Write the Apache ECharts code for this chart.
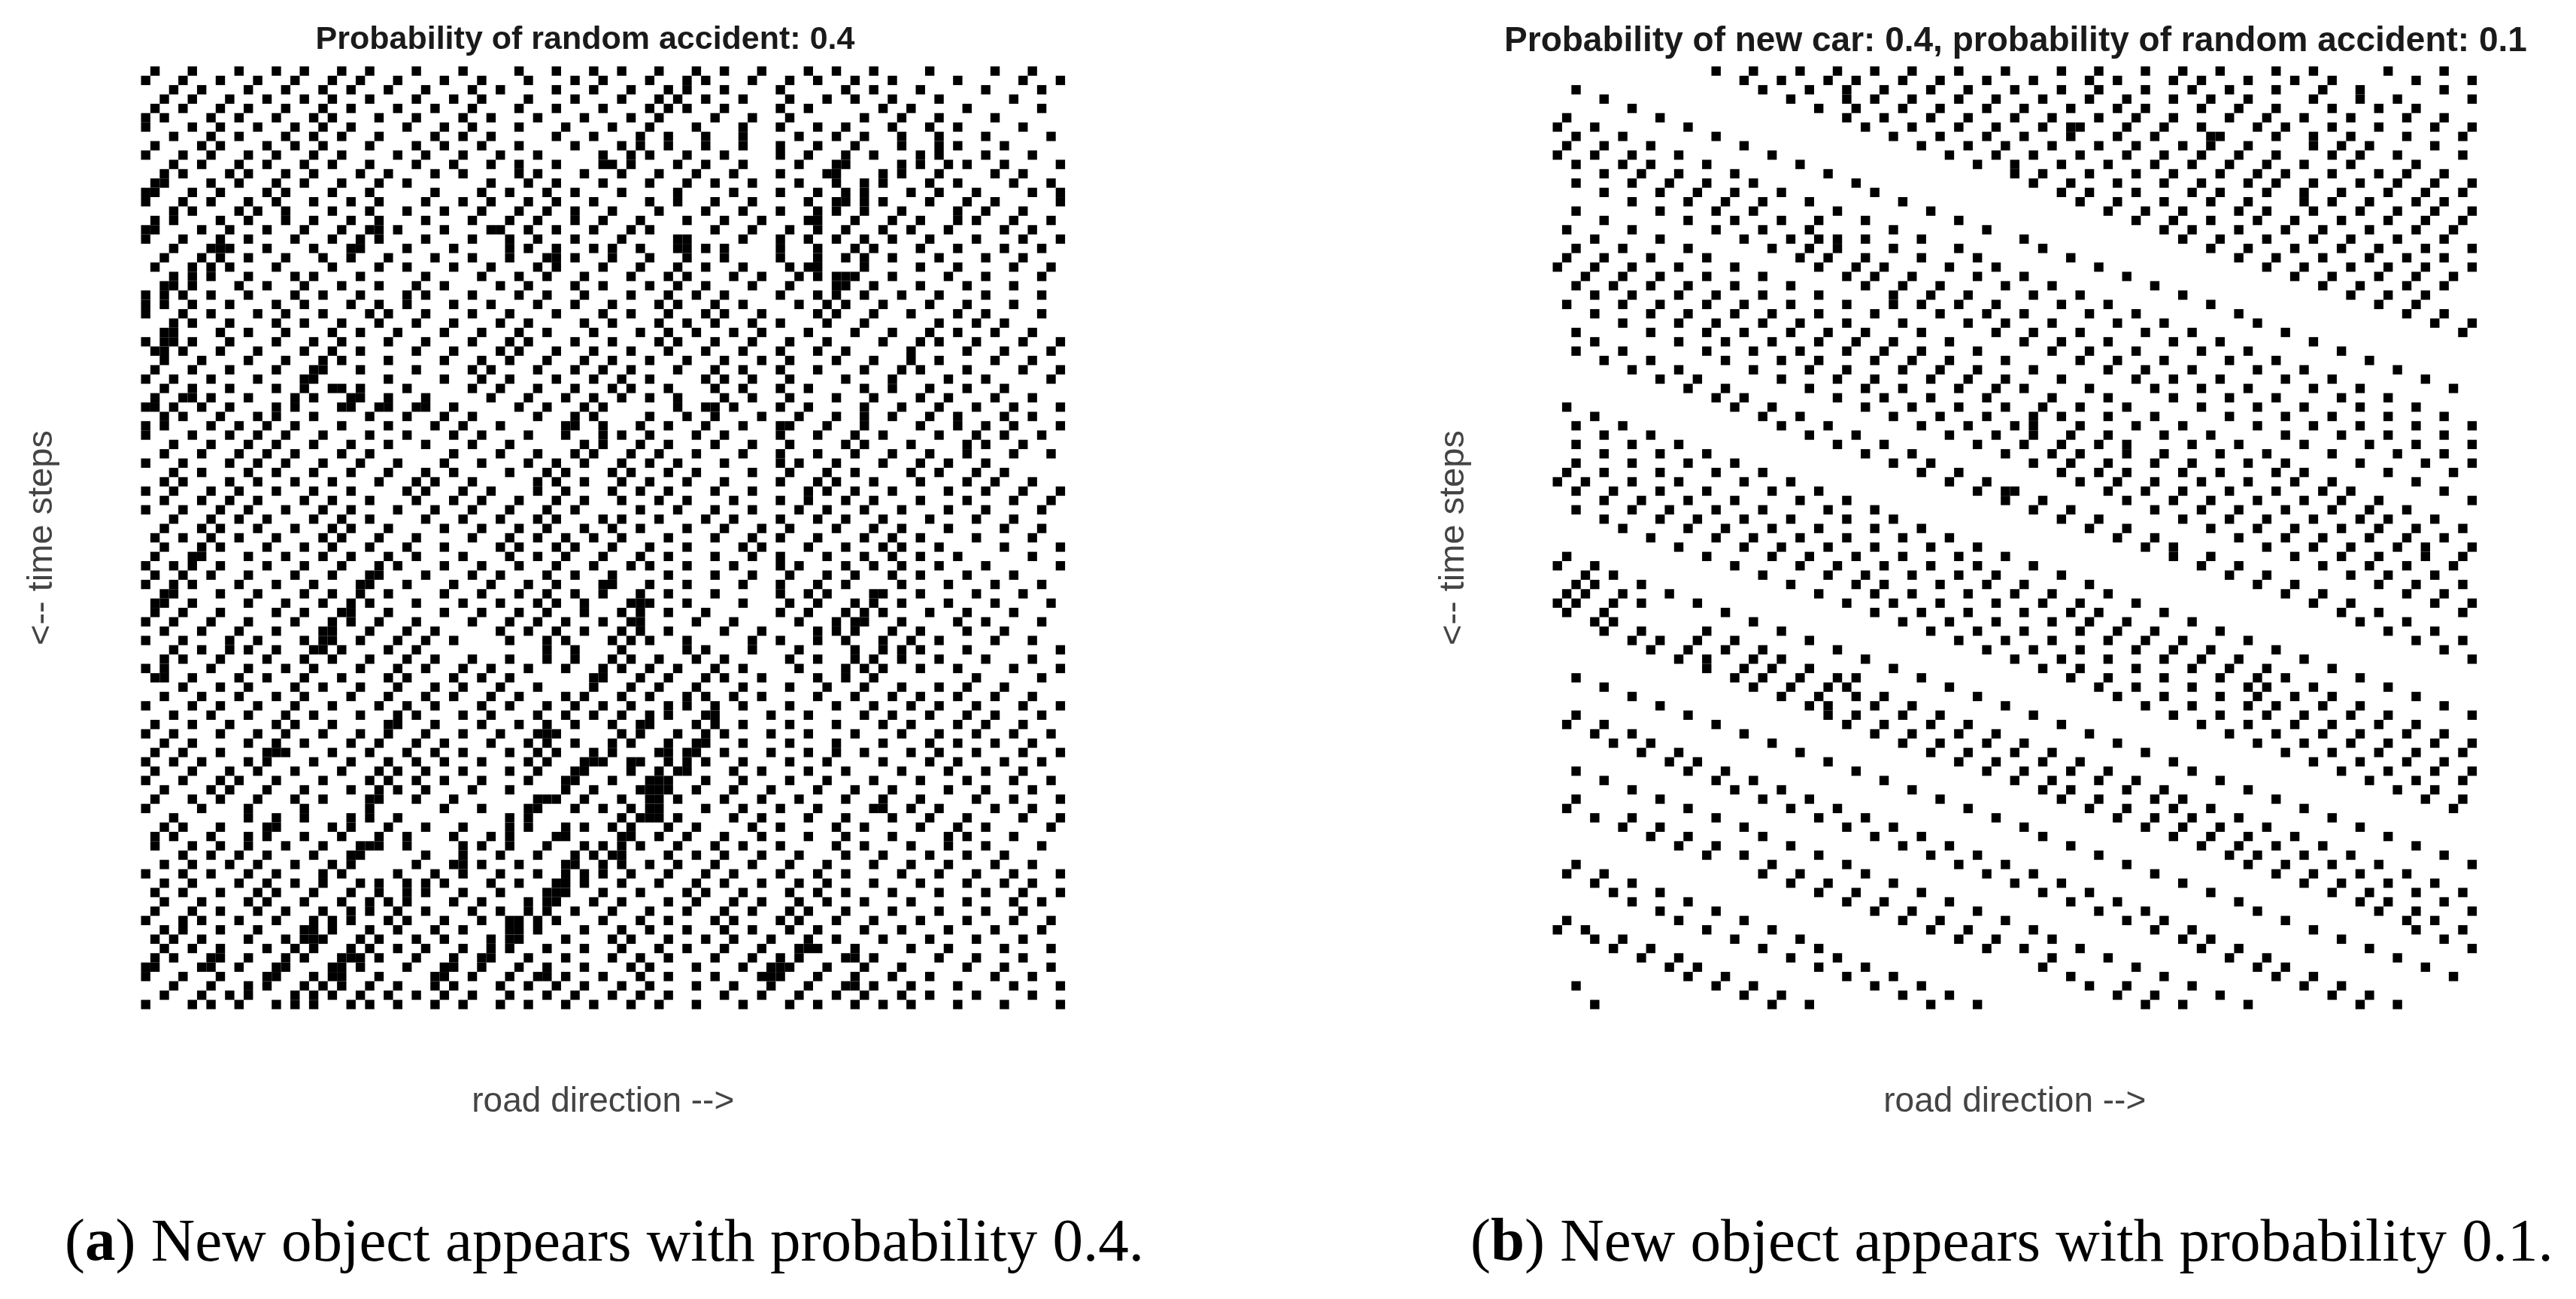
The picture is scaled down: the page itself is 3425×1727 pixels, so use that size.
<!DOCTYPE html>
<html>
<head>
<meta charset="utf-8">
<title>traffic</title>
<script src="https://cdn.jsdelivr.net/npm/echarts@6/dist/echarts.min.js"></script>
<style>html,body{margin:0;background:#fff}#main{width:3425px;height:1727px}</style>
</head>
<body>
<div id="main"></div>
<script>
// occupied road cells per time step (one list per row, numbers = column)
var rowsA = [
[1,5,10,14,17,21,24,29,34,40,44,48,51,55,59,62,66,71,74,78,84,91,95],
[0,4,8,12,16,20,23,27,32,36,41,46,49,54,58,60,65,69,72,76,80,87,94,98],
[3,6,11,15,19,22,26,30,35,38,44,48,52,56,58,62,68,75,78,83,90,96],
[2,5,9,13,17,20,24,29,33,36,41,46,51,55,57,60,64,69,73,76,80,85,93],
[1,4,8,11,15,19,22,27,31,35,40,44,49,54,56,58,62,68,71,79,82,88,96],
[0,2,7,10,14,18,20,25,29,34,37,42,47,52,55,61,65,69,77,81,85,91],
[0,5,8,12,16,19,22,28,32,35,40,45,50,54,59,64,68,72,75,80,84,87,94],
[3,7,10,15,18,21,25,31,34,37,44,48,53,56,60,64,70,74,77,81,85,90,97],
[1,6,8,13,16,19,24,29,32,36,40,46,51,53,56,60,64,68,72,76,81,85,87,92],
[0,4,7,11,14,18,21,27,30,34,38,42,49,52,54,58,62,68,71,75,78,83,85,90,95],
[3,6,10,13,17,20,24,29,33,37,40,44,49,50,52,57,60,64,70,74,75,81,83,86,88,92,98],
[2,4,9,11,15,18,23,26,31,34,40,42,47,51,55,59,63,68,73,74,79,81,85,91,94],
[1,2,7,10,14,17,21,25,28,37,41,44,49,54,58,61,65,70,74,77,79,84,87,93,97],
[0,1,5,8,13,15,20,24,31,36,39,43,46,51,57,63,68,72,75,77,82,85,89,95,98],
[0,4,7,11,14,18,22,25,30,34,37,41,44,48,54,57,61,65,71,74,75,77,79,84,88,91,98],
[3,5,10,12,15,20,24,28,32,36,40,43,46,50,55,60,64,68,72,74,77,81,87,90,94],
[1,3,8,11,15,18,22,25,30,35,39,42,46,49,53,58,62,66,71,72,76,80,83,87,89,93,97],
[0,1,6,9,13,17,21,24,25,27,32,37,38,41,44,48,52,54,61,65,69,72,75,79,82,86,92,95],
[0,4,8,11,16,20,23,25,30,35,39,42,46,51,57,58,64,68,71,74,77,80,84,89,94,98],
[3,7,8,9,13,18,22,23,28,33,39,41,44,48,50,53,57,58,60,62,68,72,76,78,83,87,92,96],
[2,6,8,11,15,19,22,26,31,35,39,43,44,46,50,54,58,62,68,72,75,77,80,85,90,94],
[1,5,7,9,14,20,25,28,33,37,42,44,49,53,57,60,64,69,71,72,77,83,87,93,97],
[3,5,7,11,16,18,23,30,36,40,43,47,52,56,58,63,66,70,72,74,75,76,80,86,90,96],
[2,3,5,10,13,17,21,25,29,32,38,41,46,49,54,57,60,65,69,74,75,78,83,88,93],
[0,2,4,7,11,16,19,23,28,30,35,40,43,47,52,56,59,62,68,72,74,77,81,85,90,96],
[0,2,5,9,14,17,22,25,28,33,37,42,46,50,55,57,61,64,70,73,75,79,84,88,93],
[0,4,7,12,15,19,24,26,30,35,39,44,49,52,56,60,62,66,72,74,78,82,87,90,96],
[3,5,9,14,17,21,25,29,33,38,41,47,50,55,58,61,65,68,73,77,85,89,92],
[2,3,8,11,15,20,23,27,32,36,40,43,48,53,56,59,63,66,71,76,80,84,87,91,95],
[0,2,3,5,9,14,18,21,26,30,35,39,41,46,50,55,57,61,65,69,73,79,83,85,89,94,98],
[1,2,4,8,12,17,20,23,29,33,38,40,44,48,52,56,60,64,68,72,75,82,88,92,97],
[2,6,11,15,19,21,26,32,36,39,43,47,50,54,58,62,66,69,74,78,82,85,91,95],
[1,5,9,14,18,19,23,29,35,37,42,46,49,52,57,61,64,68,72,77,81,83,88,94,98],
[0,3,7,12,17,18,26,32,36,39,44,48,51,54,60,62,65,69,75,80,86,90,97],
[2,5,9,14,17,20,21,23,28,35,38,42,46,50,52,56,61,64,68,71,77,80,84,88,92],
[1,4,5,7,11,16,18,22,23,26,30,37,41,45,48,51,54,57,62,65,69,74,78,83,86,91,95],
[0,1,3,6,9,14,16,21,22,25,26,29,30,33,40,43,47,49,57,60,61,63,68,71,77,81,85,89,93,98],
[2,4,8,12,14,18,24,28,32,35,42,46,48,54,58,61,66,70,74,77,80,84,87,92,95],
[0,2,7,10,13,16,21,26,31,34,38,45,46,49,53,56,60,64,68,69,73,77,83,87,90,93,98],
[0,5,9,12,15,19,24,28,33,36,41,45,49,51,54,59,62,68,72,76,79,85,89,92,96],
[3,7,11,14,18,22,26,30,35,39,47,49,53,56,61,65,69,75,77,82,88,90,94],
[2,6,10,13,16,21,24,33,38,42,46,48,52,55,59,64,68,72,76,80,84,88,93,97],
[0,4,9,12,15,19,23,27,32,36,41,44,47,51,54,57,62,68,70,74,79,83,86,90],
[3,6,11,14,18,22,26,30,33,39,43,45,50,52,56,59,65,69,73,76,82,85,89,92],
[2,4,9,12,16,20,25,29,31,35,42,44,47,51,54,58,62,68,72,74,78,83,88,91,95],
[0,3,7,10,14,18,22,28,30,34,37,42,45,50,53,56,61,65,71,73,76,80,86,90,94,98],
[2,6,9,12,17,20,24,29,33,36,40,44,47,51,55,58,63,68,71,75,78,83,88,93,97],
[0,4,8,11,15,19,22,27,31,35,39,43,46,53,57,61,65,70,73,77,81,86,90,96],
[3,7,10,13,18,21,24,30,34,38,42,44,49,51,55,60,63,68,72,75,79,84,89,93],
[2,6,8,12,16,20,22,26,32,36,40,43,47,50,53,58,62,66,69,74,78,81,86,92,96],
[1,4,7,10,14,19,21,25,29,35,39,42,45,48,51,56,61,65,68,72,77,80,83,89,95],
[2,6,8,13,17,20,24,28,32,38,40,44,46,50,54,58,64,66,71,75,79,81,85,92,98],
[1,5,6,11,15,19,22,26,29,34,39,42,45,49,53,56,61,65,68,73,77,80,83,87,95],
[0,3,5,8,13,17,21,25,27,32,36,40,44,48,52,54,58,63,68,70,75,78,81,85,90,98],
[1,4,7,11,16,20,24,25,30,35,38,43,46,50,56,61,65,69,73,76,80,83,88,93],
[0,3,5,10,14,18,23,24,28,33,37,41,44,49,50,54,58,64,68,72,75,81,86,91,96],
[2,3,8,12,17,20,23,26,32,36,40,43,46,49,53,56,61,68,71,73,78,79,83,89,94],
[1,2,5,11,15,19,22,24,29,34,38,42,44,47,52,53,54,58,64,69,72,76,78,81,86,91,97],
[1,4,8,14,17,21,22,26,32,36,40,43,47,51,53,56,60,68,71,75,77,79,84,88,93],
[0,3,7,11,16,20,22,25,29,35,39,42,45,49,52,53,59,63,70,74,76,77,81,87,90,96],
[2,6,10,14,19,20,24,28,31,38,41,44,47,51,53,56,62,66,72,74,76,80,83,88,92],
[0,4,9,12,17,19,20,23,27,30,33,39,43,45,50,52,54,58,65,68,72,75,79,82,85,91,95],
[3,6,9,11,14,18,19,21,26,29,43,46,51,58,60,65,70,76,79,81,83,88,98],
[2,4,8,13,17,20,24,28,31,35,39,43,46,50,52,55,59,62,69,72,76,78,81,85,90,95],
[0,2,7,11,15,18,23,27,30,34,37,41,45,49,51,54,57,61,64,70,75,77,79,83,87,93,98],
[1,2,5,10,13,17,21,26,28,33,36,39,48,49,53,56,60,62,66,72,75,78,89,96],
[4,8,11,16,19,23,27,31,34,38,42,48,52,55,59,64,69,73,77,81,85,88,92],
[2,6,10,14,17,22,26,30,33,37,40,45,47,51,54,58,60,63,66,72,76,80,83,87,91,95],
[0,5,8,12,16,20,25,28,31,36,39,43,46,49,52,56,58,61,64,69,74,78,82,85,89,94,98],
[3,7,11,15,18,23,27,29,34,37,42,45,48,51,54,56,60,61,67,71,77,80,84,88,91,96],
[1,5,9,14,16,20,26,27,31,36,40,43,46,50,53,54,59,61,64,69,74,79,82,87,90,94],
[0,3,8,12,15,19,23,26,30,34,38,42,43,44,51,53,57,60,62,67,71,76,81,85,89,93,97],
[2,5,11,14,17,22,25,29,32,37,41,43,46,50,52,56,59,60,64,69,74,79,84,87,91,95],
[1,4,8,13,14,15,20,24,28,31,34,39,42,44,48,50,55,56,58,59,62,67,71,74,77,82,85,89,94,98],
[0,3,6,11,13,18,22,26,29,32,36,41,43,47,48,49,52,53,56,58,60,64,69,73,79,84,87,92,96],
[1,5,9,12,16,21,25,27,30,34,39,42,46,47,52,55,57,58,63,66,71,75,81,86,90,94],
[0,4,8,10,14,19,24,26,29,32,36,41,45,46,50,54,55,56,60,64,69,73,78,83,88,93,97],
[2,7,9,13,17,22,25,27,30,35,39,45,48,53,54,55,56,59,63,67,72,76,80,86,90,95],
[1,5,8,12,16,19,24,25,29,33,42,43,44,47,51,54,55,57,62,66,70,75,79,83,89,93,98],
[0,6,11,17,24,32,36,41,42,46,49,52,54,55,60,64,68,72,78,79,82,85,91,95],
[3,11,14,17,22,24,27,39,41,51,53,54,55,57,63,66,71,75,80,84,88,94,98],
[2,4,8,13,14,20,22,26,30,34,39,41,45,47,50,52,56,59,65,68,74,77,83,87,90,97],
[1,3,7,11,13,17,21,25,28,33,37,39,44,45,51,52,55,58,62,66,71,75,80,86,88,93],
[1,5,8,11,15,19,23,24,25,28,34,36,39,43,47,49,51,53,57,61,64,68,74,77,82,86,90,96],
[4,7,10,13,18,22,23,30,34,38,42,46,48,50,51,56,59,62,66,70,75,79,84,88,92],
[2,5,9,12,16,20,22,29,33,34,36,40,45,46,49,51,54,57,61,65,69,73,78,82,86,91,95],
[0,4,7,11,14,19,21,27,31,34,38,42,45,47,49,52,56,60,63,68,72,75,81,85,89,93,98],
[2,5,10,13,16,19,23,25,28,30,32,37,40,44,45,47,51,55,59,62,66,70,73,78,83,88,92,95],
[1,4,8,12,14,18,22,25,28,30,34,38,43,44,45,49,53,58,60,64,69,72,75,80,85,90,94,98],
[2,6,11,13,17,21,24,26,28,33,36,41,43,44,48,51,56,59,63,66,70,73,77,82,88,93,96],
[1,5,8,12,15,19,22,24,27,30,35,38,41,43,46,50,54,58,62,65,69,71,75,80,85,90,94],
[0,4,6,10,14,18,20,22,26,28,32,36,39,40,42,44,49,53,56,61,63,68,70,74,78,83,88,93,97],
[2,4,8,12,17,18,20,24,27,31,34,39,40,42,47,51,54,58,62,65,69,72,77,81,86,91,96],
[1,3,6,11,15,17,18,19,23,25,29,32,37,39,40,45,50,52,56,60,63,67,71,74,79,84,89,94],
[2,5,8,13,16,18,22,24,27,30,34,37,39,43,47,51,55,58,62,66,70,71,72,76,82,86,92,97],
[1,3,7,8,11,15,17,21,22,23,25,29,33,36,37,41,45,50,53,56,61,65,68,70,75,76,78,85,89,94],
[0,1,6,7,10,14,15,20,21,23,28,32,33,36,40,43,47,52,54,59,64,67,68,69,73,77,81,88,92,97],
[0,4,8,13,14,18,20,21,25,31,32,35,39,42,43,45,49,53,56,61,66,67,68,72,76,80,84,91,95],
[3,7,11,13,17,19,21,24,27,31,33,38,41,44,47,51,54,59,63,67,71,75,76,78,82,87,93,98],
[2,6,9,11,16,18,20,23,26,29,32,35,39,43,46,50,53,56,62,66,70,74,77,81,84,89,95],
[0,5,7,10,14,16,18,22,24,27,31,34,38,41,45,48,52,55,59,64,69,72,76,79,82,87,92,98]
];
var rowsB = [
[17,21,26,30,34,38,43,48,54,58,63,67,71,77,81,89,95],
[20,24,29,32,37,41,46,51,57,60,66,69,74,79,83,92,98],
[2,22,27,31,35,40,44,49,54,58,63,68,72,77,82,86,95],
[5,25,31,34,38,43,47,52,57,61,66,70,74,81,86,90,98],
[8,28,32,37,41,46,50,55,60,63,69,73,77,83,88,92],
[1,11,31,35,40,44,49,53,58,62,66,72,76,80,85,91,95],
[0,4,14,33,38,43,47,52,55,56,61,65,69,75,78,83,88,94,98],
[2,7,17,36,41,46,50,55,60,64,70,71,77,81,85,91,97],
[1,5,10,20,39,44,48,53,58,62,67,70,74,81,84,87,94],
[0,4,8,13,23,42,47,51,56,61,65,69,73,77,83,86,90,97],
[2,7,10,16,26,45,49,54,59,64,68,72,76,80,85,92],
[5,9,13,19,29,49,52,57,62,66,71,75,78,83,88,91,95],
[2,8,12,16,21,32,51,55,60,65,69,74,77,81,86,90,94,98],
[5,11,15,19,24,34,54,57,62,68,71,76,80,84,89,93,97],
[8,14,18,22,27,37,56,60,65,70,74,80,83,87,92,95],
[2,11,17,21,30,40,59,63,67,73,76,81,86,90,94,98],
[5,14,19,24,28,33,43,62,66,70,75,79,84,89,93,97],
[1,8,17,22,27,36,46,65,68,73,78,82,87,92,96],
[4,11,20,25,28,30,33,39,50,67,71,76,81,85,90,95],
[2,7,14,23,27,30,36,43,52,70,74,79,84,88,93,98],
[1,5,10,16,26,29,33,39,45,55,73,77,82,87,91,95],
[0,4,8,13,19,28,32,35,42,47,58,76,80,85,89,93,98],
[3,7,11,16,22,31,34,38,45,50,61,79,83,88,92,96],
[2,6,10,14,19,25,33,37,41,48,53,64,82,86,91,95],
[4,8,13,17,22,28,36,40,44,51,56,67,85,89,93],
[1,7,11,16,20,25,31,36,39,43,47,54,59,70,88,92],
[4,10,14,19,23,28,34,41,46,50,57,62,73,91,95],
[7,13,17,22,26,31,37,44,48,53,60,65,75,94,98],
[2,10,16,20,25,29,33,39,47,51,56,63,68,78,97],
[4,13,18,23,28,32,36,42,50,54,59,66,71,81],
[2,7,16,21,26,31,35,39,45,53,57,62,69,74,84],
[5,10,18,24,28,34,38,42,48,56,60,65,72,77,87],
[8,13,21,27,31,37,41,45,51,59,63,68,75,80,90],
[11,15,24,30,34,40,44,48,54,62,66,71,78,83,93],
[14,18,27,33,37,43,47,50,57,64,69,74,81,86,96],
[17,20,30,35,40,46,53,59,66,72,77,84,89],
[1,19,23,33,38,43,48,52,56,61,69,75,80,86,92],
[4,22,26,36,41,46,51,54,59,64,72,78,83,89,95],
[2,7,24,29,39,44,49,51,56,62,67,75,81,86,92,98],
[5,10,27,32,42,47,51,55,59,65,70,78,84,89,95],
[2,8,13,30,35,45,50,54,58,61,68,73,80,87,92,98],
[5,11,16,33,38,48,53,56,61,65,71,76,83,90,95],
[2,8,14,19,36,40,51,55,59,64,68,74,78,86,93,98],
[1,5,11,17,22,39,43,54,58,61,67,71,77,80,89,96],
[0,3,8,13,20,25,42,46,56,60,64,69,74,79,83,92],
[2,6,11,16,23,28,45,48,49,59,63,67,72,77,82,85,95],
[5,9,14,19,26,31,48,52,61,66,70,75,80,84,88,98],
[2,8,12,17,22,29,34,51,55,64,69,73,78,83,87,91],
[5,11,15,20,25,31,36,54,58,67,72,76,81,86,89,94],
[7,14,18,23,28,34,39,57,61,70,75,79,84,88,92,97],
[10,17,21,26,31,37,42,60,64,73,78,82,87,91,95],
[13,20,24,29,34,40,45,63,66,76,81,85,90,93,98],
[1,16,23,27,32,37,43,48,66,70,79,84,88,93,97],
[0,4,19,26,30,35,40,45,51,69,73,82,87,91,96],
[3,6,22,29,33,38,43,47,54,72,76,85,89,94],
[2,4,9,25,32,35,41,46,50,57,75,79,88,92,97],
[1,3,7,12,28,34,38,44,49,53,59,78,82,91,95],
[0,2,6,9,15,31,36,41,47,52,56,62,81,85,94,98],
[1,5,18,34,39,44,50,55,58,65,84,88,97],
[4,6,21,37,42,47,53,57,61,68,86,91],
[5,9,16,24,40,45,50,56,60,64,71,89,94],
[8,11,15,19,27,43,48,53,59,63,67,74,92,97],
[10,14,18,22,30,46,51,56,62,66,70,77,95],
[13,16,21,24,33,49,54,59,65,69,73,80,98],
[16,20,23,27,36,52,56,62,68,72,76,83],
[2,19,22,26,30,32,39,55,59,65,71,75,78,86],
[5,21,25,29,31,42,58,62,68,74,76,81,89],
[8,24,28,32,35,45,60,65,71,75,79,83,92],
[11,27,29,34,38,48,63,68,74,77,82,86,95],
[2,14,29,32,37,41,51,66,71,76,80,85,89,98],
[1,5,17,31,35,40,44,54,69,74,79,83,88,92],
[4,8,20,34,38,43,47,57,72,77,82,86,91,95],
[6,10,23,37,41,46,50,60,75,80,85,89,94,98],
[9,13,26,40,44,49,53,63,78,83,88,92,97],
[12,15,29,43,47,52,56,66,81,86,91,95],
[2,14,18,32,46,50,55,59,68,84,89,94,98],
[5,17,21,35,49,53,58,62,71,87,92,97],
[8,19,24,38,52,55,61,65,74,90,94],
[2,11,22,27,41,54,58,64,67,77,93,97],
[1,14,25,30,44,57,61,66,70,80,96],
[4,8,17,28,33,47,60,64,68,73,83],
[7,11,20,31,36,50,63,67,71,76,86],
[10,14,22,34,39,52,66,70,74,79,89],
[13,17,25,37,42,55,69,73,77,82,92],
[16,20,28,40,45,58,72,75,80,85,95],
[2,23,31,43,48,61,74,78,83,88,98],
[1,5,22,26,33,46,51,64,77,81,86,91],
[4,8,25,29,36,49,54,67,80,84,89,94],
[6,11,28,32,39,52,57,70,83,87,92,97],
[8,14,31,35,42,55,60,73,86,89,95],
[11,17,34,38,45,58,63,75,88,92,98],
[1,13,20,37,41,48,61,65,78,91,94],
[0,3,16,23,40,44,51,64,68,81,92,97],
[4,7,19,26,43,47,53,67,70,84,95],
[6,10,22,28,46,50,56,69,73,87,98],
[9,13,25,30,53,59,72,76,90],
[12,15,28,33,52,62,75,78,93],
[14,18,31,36,55,65,77,81,96],
[2,17,21,34,39,57,61,68,80,84],
[20,24,37,42,60,64,71,83,87],
[4,23,27,40,45,63,67,74,86,90]
];
var titles = ['Probability of random accident: 0.4', 'Probability of new car: 0.4, probability of random accident: 0.1'];
var captions = ['({b|a}) New object appears with probability 0.4.', '({b|b}) New object appears with probability 0.1.'];
var xName = 'road direction -->';
var yName = '<-- time steps';
var nCols = 99, nRows = 101;

var colLabels = [], rowLabels = [];
for (var i = 0; i < nCols; i++) colLabels.push(String(i));
for (var j = 0; j < nRows; j++) rowLabels.push(String(j));

function cells(rows) {
    var out = [];
    for (var r = 0; r < rows.length; r++)
        for (var k = 0; k < rows[r].length; k++)
            out.push([rows[r][k], r]);
    return out;
}
function drawCell(params, api) {
    var p = api.coord([api.value(0), api.value(1)]);
    var s = api.size([1, 1]);
    return {type: 'rect', shape: {x: p[0] - s[0] / 2, y: p[1] - s[1] / 2, width: s[0], height: s[1]}, style: {fill: '#000'}};
}
function xAxis(idx) {
    return {type: 'category', gridIndex: idx, data: colLabels, name: xName, nameLocation: 'middle', nameGap: 101,
        nameTextStyle: {fontFamily: 'Liberation Sans', fontSize: 46, color: '#444'},
        axisLine: {show: false}, axisTick: {show: false}, axisLabel: {show: false}, splitLine: {show: false}};
}
function yAxis(idx) {
    return {type: 'category', gridIndex: idx, data: rowLabels, inverse: true, name: yName, nameLocation: 'middle', nameGap: 108,
        nameTextStyle: {fontFamily: 'Liberation Sans', fontSize: 47, color: '#444'},
        axisLine: {show: false}, axisTick: {show: false}, axisLabel: {show: false}, splitLine: {show: false}};
}
function captionStyle() {
    return {fontFamily: 'Liberation Serif', fontSize: 81, fontWeight: 'normal', color: '#000',
        rich: {b: {fontFamily: 'Liberation Serif', fontSize: 81, fontWeight: 'bold', color: '#000'}}};
}
var chart = echarts.init(document.getElementById('main'), null, {renderer: 'canvas'});
chart.setOption({
    animation: false,
    backgroundColor: '#fff',
    title: [
        {text: titles[0], left: 773, top: 27, textAlign: 'center', textStyle: {fontFamily: 'Liberation Sans', fontSize: 43, fontWeight: 'bold', color: '#1a1a1a'}},
        {text: titles[1], left: 2675, top: 27, textAlign: 'center', textStyle: {fontFamily: 'Liberation Sans', fontSize: 46, fontWeight: 'bold', color: '#1a1a1a'}},
        {text: captions[0], left: 81, top: 1609, textStyle: captionStyle()},
        {text: captions[1], left: 1950, top: 1609, textStyle: captionStyle()}
    ],
    grid: [
        {left: 187.5, top: 88.3, width: 1228.6, height: 1253.4},
        {left: 2064.5, top: 88.3, width: 1228.6, height: 1253.4}
    ],
    xAxis: [xAxis(0), xAxis(1)],
    yAxis: [yAxis(0), yAxis(1)],
    series: [
        {type: 'custom', xAxisIndex: 0, yAxisIndex: 0, data: cells(rowsA), renderItem: drawCell, clip: false, silent: true},
        {type: 'custom', xAxisIndex: 1, yAxisIndex: 1, data: cells(rowsB), renderItem: drawCell, clip: false, silent: true}
    ]
});
</script>
</body>
</html>
